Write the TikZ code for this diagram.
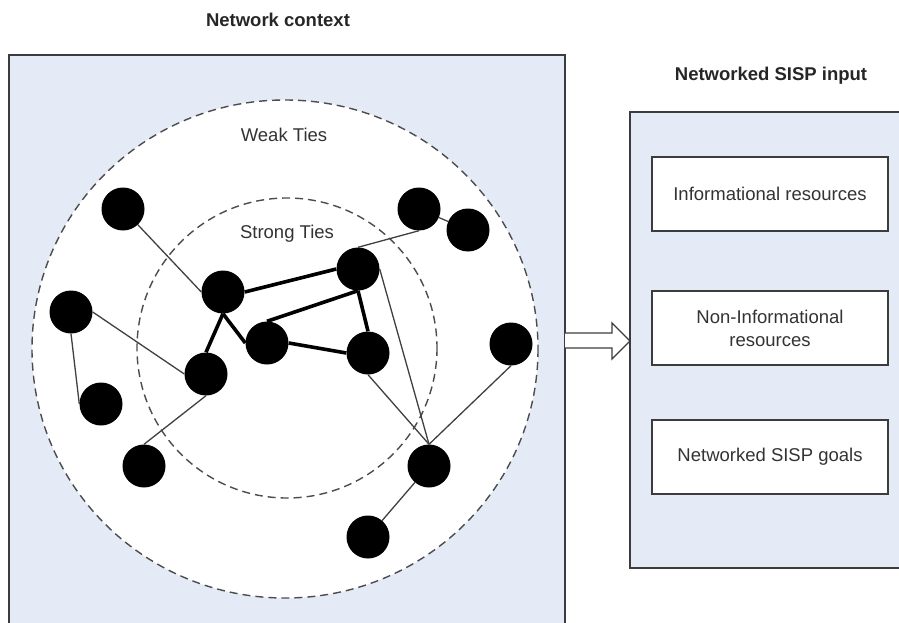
\documentclass[tikz,border=0pt]{standalone}
\usepackage{fontspec}
\setmainfont{Liberation Sans}
\definecolor{bgblue}{RGB}{228,235,246}
\definecolor{frame}{RGB}{60,60,60}
\begin{document}
\begin{tikzpicture}[x=1pt,y=-1pt,
  dot/.style={circle,fill=black,minimum size=43pt,inner sep=0pt},
  weak/.style={line width=1.3pt,black!75},
  strong/.style={line width=3.6pt,black},
  ring/.style={dashed,dash pattern=on 8pt off 5pt,line width=1.4pt,black!70},
  panel/.style={line width=2pt,frame},
  itembox/.style={draw=frame,line width=1.5pt,fill=white,minimum width=236pt,minimum height=74pt,align=center,inner sep=2pt},
  lbl/.style={font=\fontsize{18.5}{23}\selectfont,text=black!80},
  head/.style={font=\fontsize{18.5}{23}\selectfont\bfseries,text=black!85}]
\useasboundingbox (0,0) rectangle (899,623);
% left panel
\fill[bgblue] (9,55) rectangle (565,623);
\draw[panel] (9,623) -- (9,55) -- (565,55) -- (565,623);
\node[head] (t1) at (278,20) {Network context};
% right panel
\fill[bgblue] (630,112) rectangle (899,568);
\draw[panel] (899,112) -- (630,112) -- (630,568) -- (899,568);
\node[head] (t2) at (771,76) {Networked SISP input};
% circles
\fill[white] (285,349) ellipse [x radius=253, y radius=249];
\draw[ring] (285,349) ellipse [x radius=253, y radius=249];
\draw[ring] (287,348) circle [radius=150];
\node[lbl] (weak) at (284,135) {Weak Ties};
\node[lbl] (strong) at (287,234) {Strong Ties};
% nodes
\node[dot] (A) at (123,209) {};
\node[dot] (B) at (223,292) {};
\node[dot] (C) at (71,312) {};
\node[dot] (D) at (267,343) {};
\node[dot] (E) at (419,209) {};
\node[dot] (F) at (468,230) {};
\node[dot] (G) at (358,269) {};
\node[dot] (H) at (368,353) {};
\node[dot] (I) at (511,344) {};
\node[dot] (J) at (429,466) {};
\node[dot] (K) at (368,537) {};
\node[dot] (L) at (101,404) {};
\node[dot] (M) at (206,374) {};
\node[dot] (N) at (144,466) {};
% weak ties
\draw[weak] (A) -- (B.west);
\draw[weak] (C.south) -- (L.west);
\draw[weak] (C.east) -- (M.west);
\draw[weak] (M.south) -- (N.north);
\draw[weak] (E) -- (F);
\draw[weak] (G.north) -- (E.south);
\draw[weak] (G.east) -- (J.north);
\draw[weak] (H.south) -- (J.north);
\draw[weak] (I.south) -- (J.north);
\draw[weak] (J) -- (K);
% strong ties
\draw[strong] (B.east) -- (G.west);
\draw[strong] (B.south) -- (M.north);
\draw[strong] (B.south) -- (D.west);
\draw[strong] (D.north) -- (G.south);
\draw[strong] (D.east) -- (H.west);
\draw[strong] (G.south) -- (H.north);
% boxes
\node[itembox,lbl] (b1) at (770,194) {Informational resources};
\node[itembox,lbl] (b2) at (770,328) {Non-Informational\\resources};
\node[itembox,lbl] (b3) at (770,457) {Networked SISP goals};
% block arrow
\draw[line width=1.3pt,frame,fill=white]
  (565,333) -- (612,333) -- (612,323) -- (630,341) -- (612,359) -- (612,348) -- (565,348);
\end{tikzpicture}
\end{document}
